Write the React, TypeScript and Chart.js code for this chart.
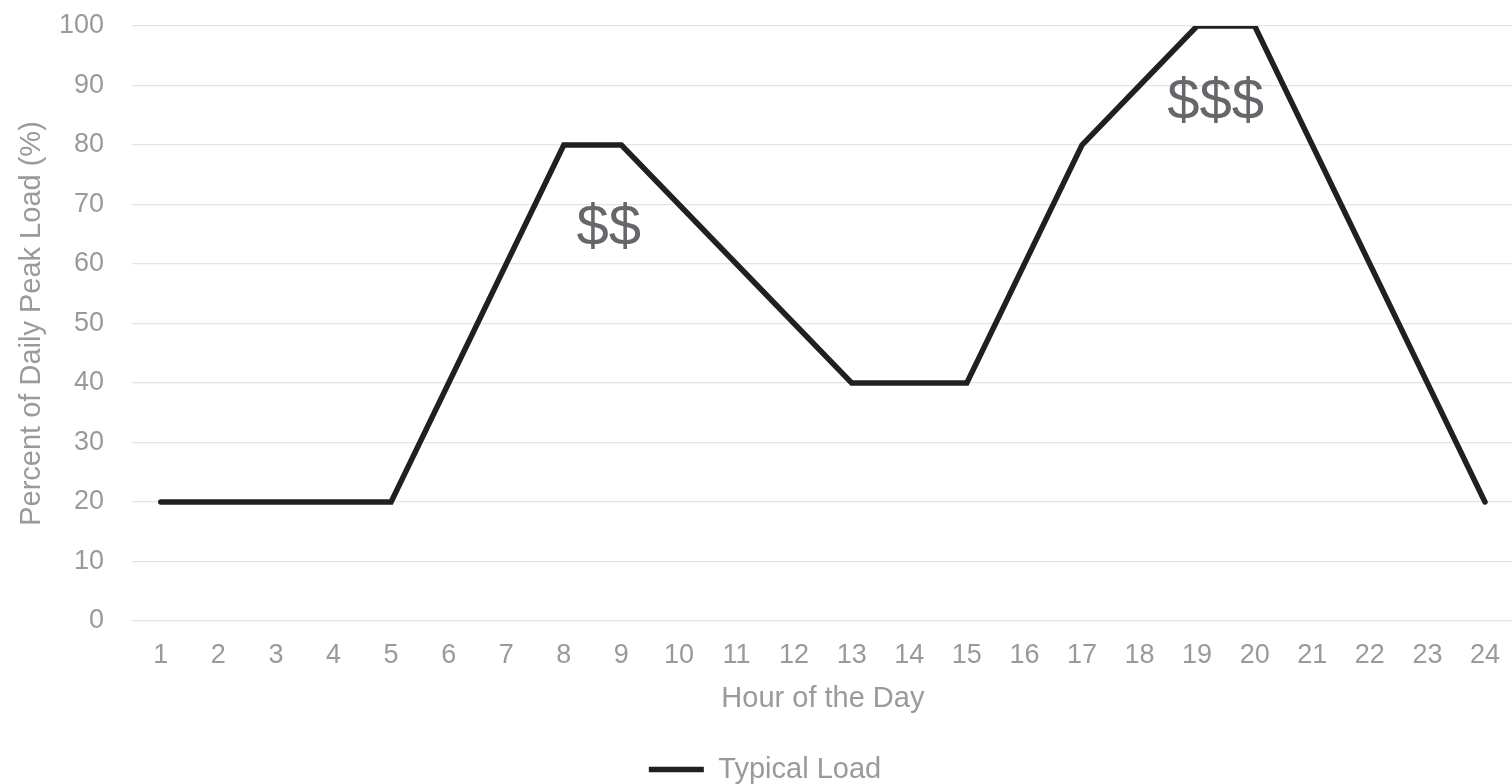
import React, { useEffect, useRef } from "react";
import { Chart, registerables } from "chart.js";

Chart.register(...registerables);

// Hours of the day shown along the x axis
const hours: string[] = [
  "1", "2", "3", "4", "5", "6", "7", "8", "9", "10", "11", "12",
  "13", "14", "15", "16", "17", "18", "19", "20", "21", "22", "23", "24",
];

// Typical load as a percent of the daily peak, one value per hour
const typicalLoad: number[] = [
  20, 20, 20, 20, 20, 40, 60, 80, 80, 70, 60, 50,
  40, 40, 40, 60, 80, 90, 100, 100, 80, 60, 40, 20,
];

// Y axis range and step
const yMin = 0;
const yMax = 100;
const yStep = 10;

// Price markers written inside the plot, anchored in data space
const priceLabels: string[] = ["$$", "$$$"];
const priceHourIndex: number[] = [7.78, 18.32];
const priceLevel: number[] = [65.9, 87];

const FONT = "'Liberation Sans', Arial, Helvetica, sans-serif";
const GREY = "#9a9a9e";
const LINE = "#1e2023";

const priceLabelPlugin = {
  id: "priceLabels",
  afterDatasetsDraw(chart: any) {
    const { ctx, scales } = chart;
    ctx.save();
    ctx.font = `58px ${FONT}`;
    ctx.fillStyle = "#66666b";
    ctx.textAlign = "center";
    ctx.textBaseline = "middle";
    priceLabels.forEach((t, i) => {
      const x = scales.x.getPixelForValue(priceHourIndex[i]);
      const y = scales.y.getPixelForValue(priceLevel[i]);
      ctx.fillText(t, x, y);
    });
    ctx.restore();
  },
};

export default function App() {
  const canvasRef = useRef<HTMLCanvasElement | null>(null);

  useEffect(() => {
    document.documentElement.style.overflow = "hidden";
    document.body.style.overflow = "hidden";
    const canvas = canvasRef.current;
    if (!canvas) return;
    const chart = new Chart(canvas, {
      type: "line",
      data: {
        labels: hours,
        datasets: [
          {
            label: "Typical Load",
            data: typicalLoad,
            borderColor: LINE,
            backgroundColor: LINE,
            borderWidth: 5.5,
            borderCapStyle: "round",
            borderJoinStyle: "miter",
            pointRadius: 0,
            pointHoverRadius: 0,
            pointStyle: "line",
            tension: 0,
            fill: false,
          },
        ],
      },
      options: {
        responsive: false,
        animation: false,
        layout: { padding: { top: 26, left: 12, right: 0, bottom: 0 } },
        plugins: {
          tooltip: { enabled: false },
          legend: {
            display: true,
            position: "bottom",
            labels: {
              usePointStyle: true,
              pointStyle: "line",
              pointStyleWidth: 55,
              boxHeight: 28,
              padding: 0,
              color: GREY,
              font: { family: FONT, size: 29 },
            },
          },
        },
        scales: {
          x: {
            type: "category",
            offset: true,
            grid: { display: false, drawTicks: false },
            border: { display: false },
            ticks: {
              color: GREY,
              font: { family: FONT, size: 27 },
              padding: 18,
              maxRotation: 0,
              autoSkip: false,
            },
            title: {
              display: true,
              text: "Hour of the Day",
              color: GREY,
              font: { family: FONT, size: 29 },
              padding: { top: 4, bottom: 39 },
            },
            afterFit: (scale: any) => {
              scale.height = 134;
            },
          },
          y: {
            min: yMin,
            max: yMax,
            grid: {
              color: "#e4e4e4",
              lineWidth: 1.3,
              drawTicks: true,
              tickLength: 25,
              tickColor: "rgba(0,0,0,0)",
            },
            border: { display: false },
            ticks: {
              stepSize: yStep,
              color: GREY,
              font: { family: FONT, size: 27 },
              padding: 3,
            },
            title: {
              display: true,
              text: "Percent of Daily Peak Load (%)",
              color: GREY,
              font: { family: FONT, size: 29 },
              padding: { top: 3, bottom: 4 },
            },
            afterFit: (scale: any) => {
              scale.width = 120;
            },
          },
        },
      },
      plugins: [priceLabelPlugin],
    });
    return () => chart.destroy();
  }, []);

  return (
    <canvas
      ref={canvasRef}
      width={1518}
      height={794}
      style={{ position: "fixed", left: 0, top: 0, width: "1518px", height: "794px" }}
    />
  );
}
